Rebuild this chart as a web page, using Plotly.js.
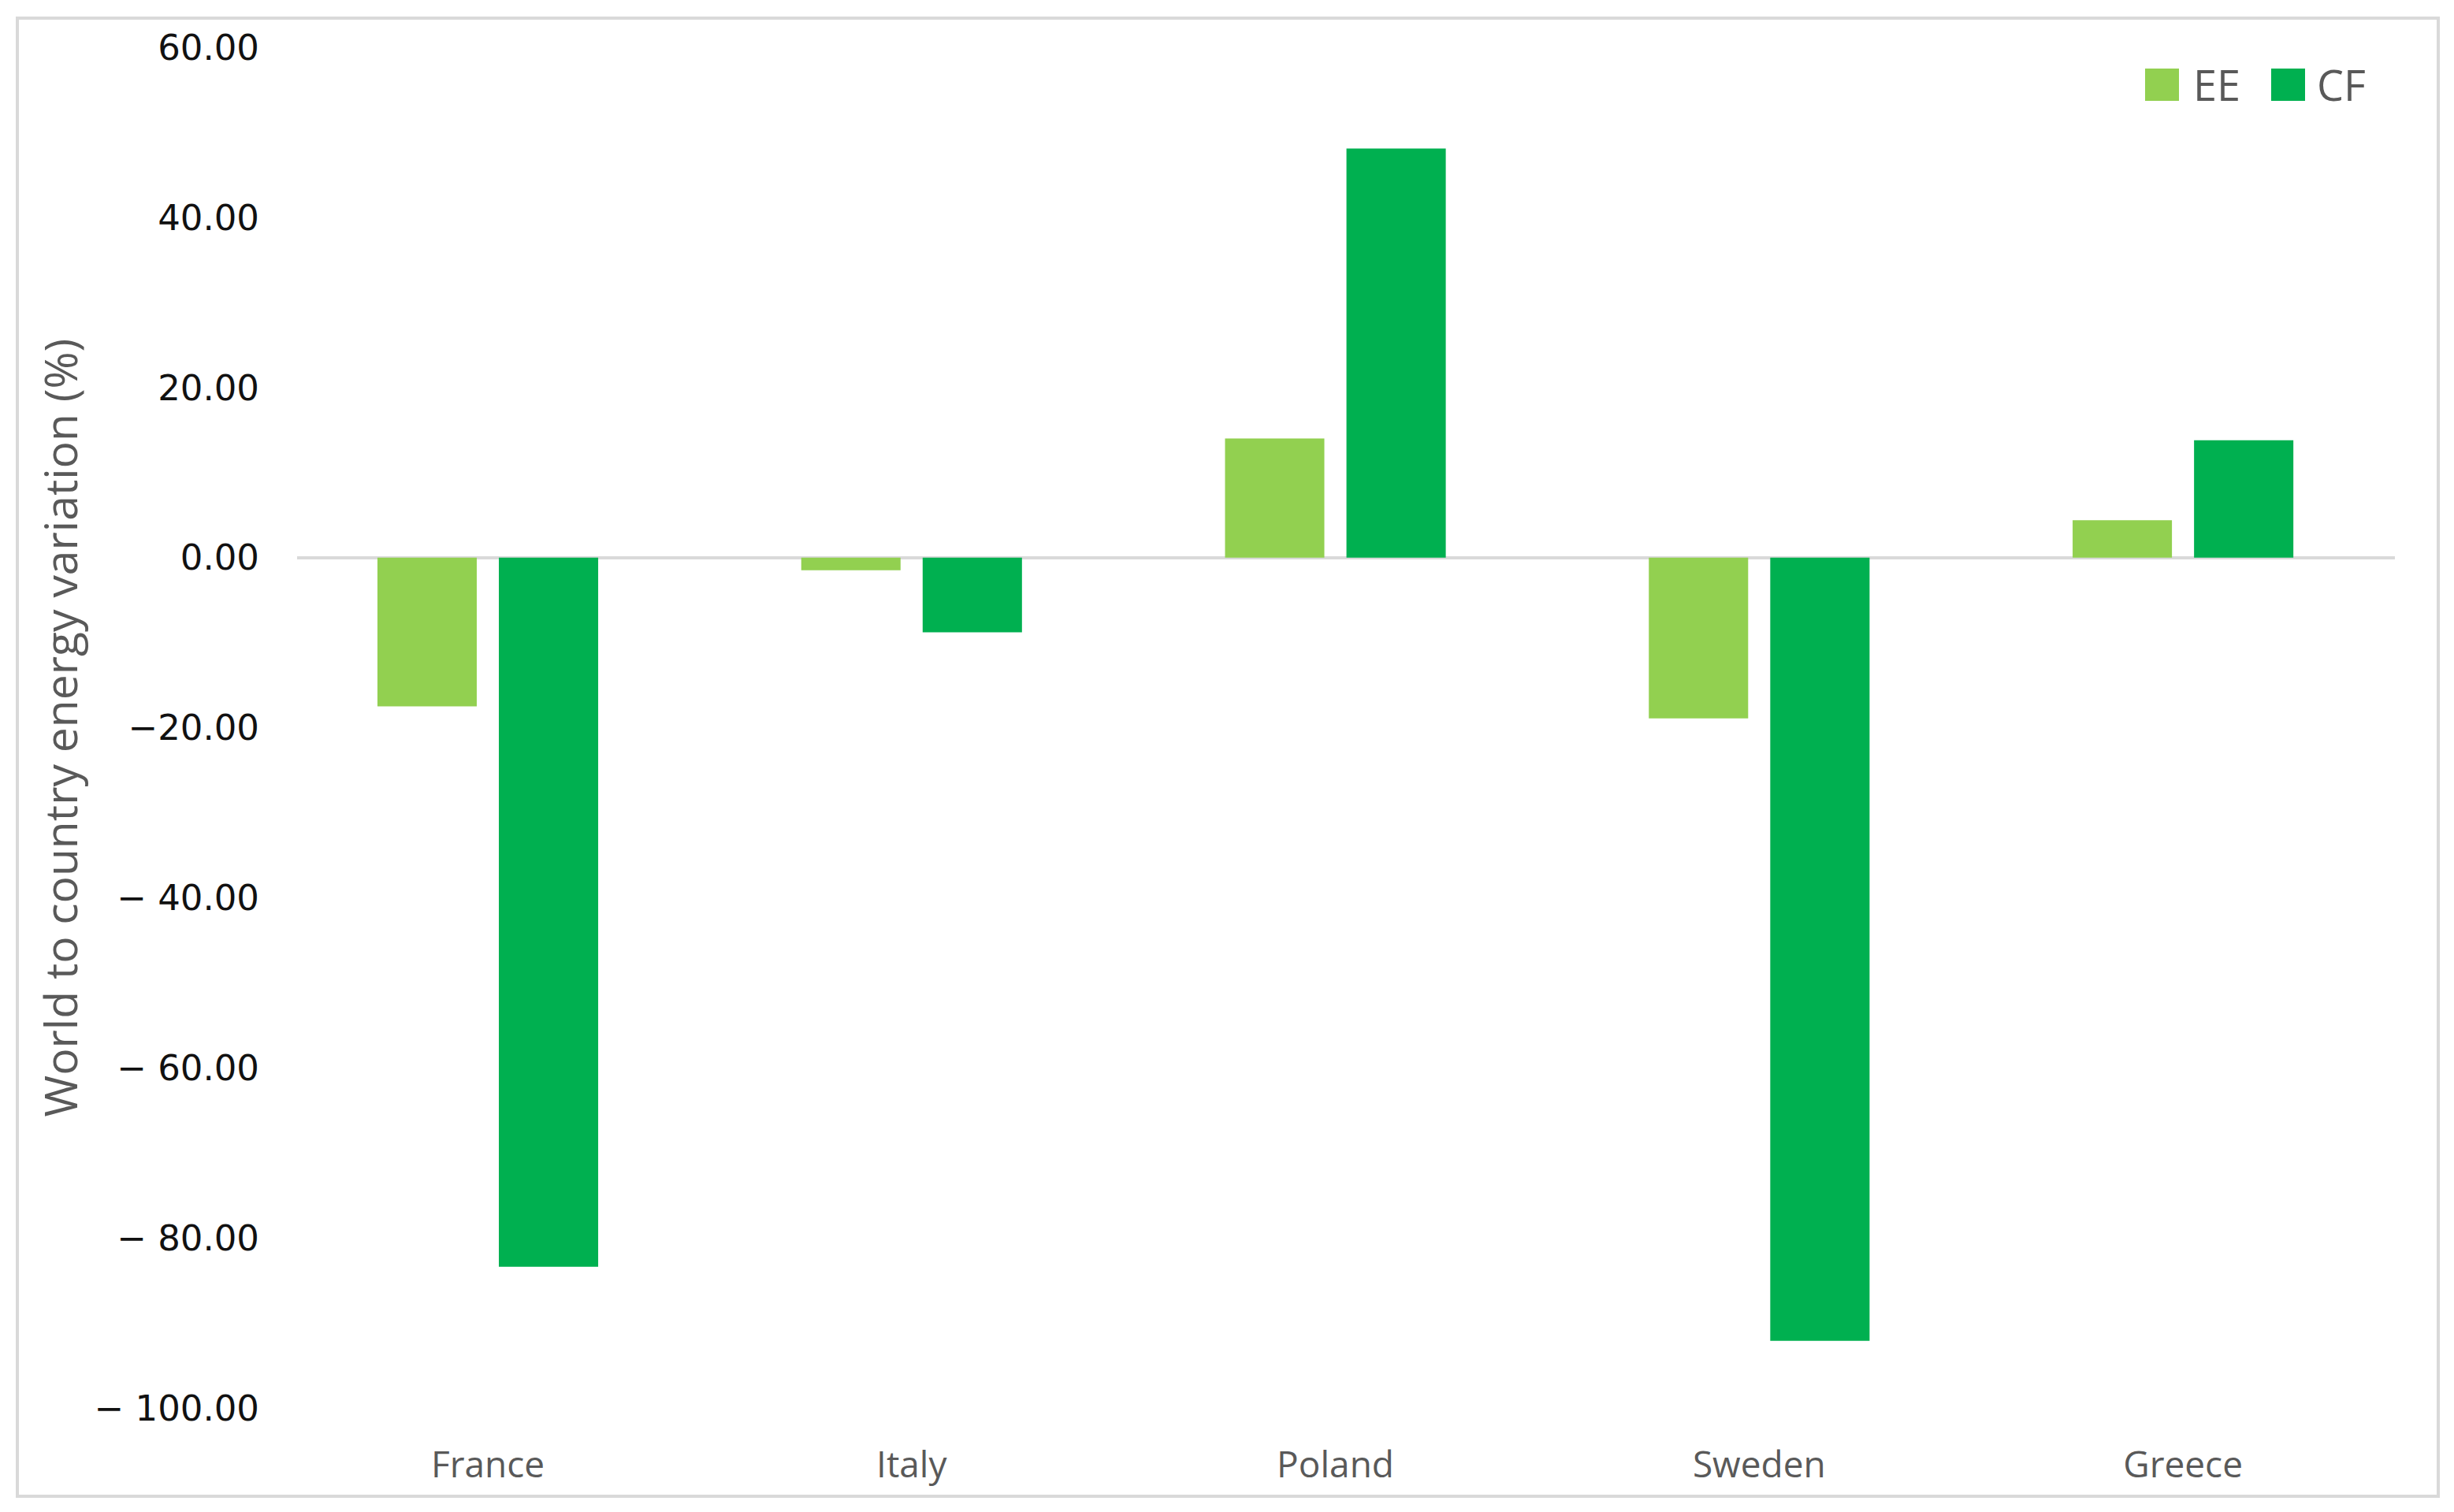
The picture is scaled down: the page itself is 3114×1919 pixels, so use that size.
<!DOCTYPE html>
<html>
<head>
<meta charset="utf-8">
<script src="https://cdn.plot.ly/plotly-3.0.1.min.js"></script>
<style>
  html, body { margin: 0; padding: 0; background: #fff; }
  #chart { width: 3114px; height: 1919px; position: relative; }
  #frame {
    position: absolute; left: 20px; top: 21px; width: 3068px; height: 1872px;
    border: 4px solid #d9d9d9; pointer-events: none;
  }
</style>
</head>
<body>
<div id="chart"></div>
<div id="frame"></div>
<script>
// countries on the category axis
const countries = ["France", "Italy", "Poland", "Sweden", "Greece"];

// world-to-country energy variation (%)
const ee_values = [-17.5, -1.5, 14.0, -18.9, 4.4];
const cf_values = [-83.4, -8.8, 48.1, -92.1, 13.8];

// y tick labels as printed in the original
const y_tick_vals = [60, 40, 20, 0, -20, -40, -60, -80, -100];
const y_tick_text = ["60.00", "40.00", "20.00", "0.00", "\u221220.00", "\u2212 40.00", "\u2212 60.00", "\u2212 80.00", "\u2212 100.00"];

const EE_COLOR = "#92d050";
const CF_COLOR = "#00b050";

const W = 3114, H = 1919;
const margin = { l: 377, r: 75, t: 60, b: 132 };
const plot_w = W - margin.l - margin.r;
const plot_h = H - margin.t - margin.b;

// pixel -> paper helpers for the hand-made legend
const px = x => (x - margin.l) / plot_w;
const py = y => (H - margin.b - y) / plot_h;

const ee_trace = {
  name: "EE",
  x: countries,
  y: ee_values,
  type: "bar",
  marker: { color: EE_COLOR },
};

const cf_trace = {
  name: "CF",
  x: countries,
  y: cf_values,
  type: "bar",
  marker: { color: CF_COLOR },
};

// Excel-style legend: big swatches, top right
const legend_items = [
  { name: ee_trace.name, color: EE_COLOR, sq: 2722, txt: 2781 },
  { name: cf_trace.name, color: CF_COLOR, sq: 2882, txt: 2938 },
];
const legend_shapes = legend_items.map(it => ({
  type: "rect", xref: "paper", yref: "paper",
  x0: px(it.sq), x1: px(it.sq + 43), y0: py(128), y1: py(87),
  fillcolor: it.color, line: { width: 0 },
}));
const legend_annotations = legend_items.map(it => ({
  xref: "paper", yref: "paper", x: px(it.txt), y: py(107),
  xanchor: "left", yanchor: "middle", showarrow: false,
  text: it.name,
  font: { family: "Open Sans, sans-serif", size: 54, color: "#595959" },
}));

const layout = {
  width: W,
  height: H,
  margin: margin,
  paper_bgcolor: "#ffffff",
  plot_bgcolor: "#ffffff",
  barmode: "group",
  bargap: 0.427,
  bargroupgap: 0.182,
  showlegend: false,
  shapes: legend_shapes,
  annotations: legend_annotations,
  xaxis: {
    type: "category",
    range: [-0.45, 4.5],
    showline: false,
    showgrid: false,
    zeroline: false,
    ticks: "outside",
    ticklen: 32,
    tickcolor: "rgba(0,0,0,0)",
    tickfont: { family: "Open Sans, sans-serif", size: 46, color: "#595959" },
  },
  yaxis: {
    range: [-100, 60],
    tickvals: y_tick_vals,
    ticktext: y_tick_text,
    showline: false,
    showgrid: false,
    zeroline: true,
    zerolinecolor: "#d9d9d9",
    zerolinewidth: 4,
    ticks: "outside",
    ticklen: 38,
    tickcolor: "rgba(0,0,0,0)",
    tickfont: { family: "DejaVu Sans, Verdana, sans-serif", size: 45, color: "#111111" },
    title: {
      text: "World to country energy variation (%)",
      font: { family: "Open Sans, sans-serif", size: 57, color: "#595959" },
      standoff: 2,
    },
    automargin: false,
  },
};

Plotly.newPlot("chart", [ee_trace, cf_trace], layout, { staticPlot: true });
</script>
</body>
</html>
